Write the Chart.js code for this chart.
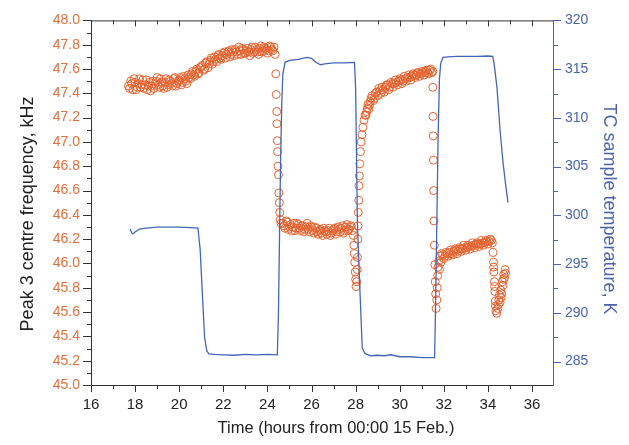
<!DOCTYPE html>
<html>
<head>
<meta charset="utf-8">
<script src="https://cdn.jsdelivr.net/npm/chart.js@4.4.1/dist/chart.umd.min.js"></script>
<style>
  body { margin: 0; background: #fff; }
  #chart { display: block; }
</style>
</head>
<body>
<canvas id="chart" width="629" height="445"></canvas>
<script>
// peak 3 centre frequency (kHz) vs time (h)
const freqTime = [
  // warm plateau, rising
  17.7, 17.8, 17.9, 18.0, 18.1, 18.2, 18.3, 18.4, 18.5, 18.6, 18.7, 18.8, 18.9, 19.0, 19.1, 19.2, 19.3, 19.4, 19.5, 19.6,
  19.7, 19.8, 19.9, 20.0, 20.1, 20.2, 20.3, 20.4, 20.5, 20.6, 20.7, 20.8, 20.9, 21.0, 21.1, 21.2, 21.3, 21.4, 21.5, 21.6,
  21.7, 21.8, 21.9, 22.0, 22.1, 22.2, 22.3, 22.4, 22.5, 22.6, 22.7, 22.8, 22.9, 23.0, 23.1, 23.2, 23.3, 23.4, 23.5, 23.6,
  23.7, 23.8, 23.9, 24.0, 24.1, 24.2, 24.3,
  17.75, 17.85, 17.95, 18.05, 18.15, 18.25, 18.35, 18.45, 18.55, 18.65, 18.75, 18.85, 18.95, 19.05, 19.15, 19.25, 19.35, 19.45, 19.55, 19.65,
  19.75, 19.85, 19.95, 20.05, 20.15, 20.25, 20.35, 20.45, 20.55, 20.65, 20.75, 20.85, 20.95, 21.05, 21.15, 21.25, 21.35, 21.45, 21.55, 21.65,
  21.75, 21.85, 21.95, 22.05, 22.15, 22.25, 22.35, 22.45, 22.55, 22.65, 22.75, 22.85, 22.95, 23.05, 23.15, 23.25, 23.35, 23.45, 23.55, 23.65,
  23.75, 23.85, 23.95, 24.05, 24.15, 24.25,
  // drop
  24.35, 24.38, 24.40, 24.42, 24.43, 24.45, 24.46, 24.48, 24.50, 24.52, 24.54, 24.56, 24.58, 24.62,
  // hot plateau
  24.7, 24.8, 24.9, 25.0, 25.1, 25.2, 25.3, 25.4, 25.5, 25.6, 25.7, 25.8, 25.9, 26.0, 26.1, 26.2, 26.3, 26.4, 26.5, 26.6,
  26.7, 26.8, 26.9, 27.0, 27.1, 27.2, 27.3, 27.4, 27.5, 27.6, 27.7, 27.8, 27.85,
  24.75, 24.85, 24.95, 25.05, 25.15, 25.25, 25.35, 25.45, 25.55, 25.65, 25.75, 25.85, 25.95, 26.05, 26.15, 26.25, 26.35, 26.45, 26.55, 26.65,
  26.75, 26.85, 26.95, 27.05, 27.15, 27.25, 27.35, 27.45, 27.55, 27.65, 27.75,
  // drop
  27.9, 27.92, 27.94, 27.96, 27.98, 28.0, 28.02,
  // recovery
  28.05, 28.07, 28.08, 28.10, 28.11, 28.12, 28.14, 28.15, 28.17, 28.19, 28.22, 28.25, 28.29, 28.33, 28.38, 28.43,
  28.5, 28.56, 28.63, 28.7, 28.8, 28.9, 29.0,
  28.47, 28.53, 28.6, 28.66, 28.75, 28.85, 28.95,
  29.1, 29.2, 29.3, 29.4, 29.5, 29.6, 29.7, 29.8, 29.9, 30.0, 30.1, 30.2, 30.3, 30.4, 30.5, 30.6, 30.7, 30.8, 30.9, 31.0,
  31.1, 31.2, 31.3, 31.4, 31.5,
  29.05, 29.15, 29.25, 29.35, 29.45, 29.55, 29.65, 29.75, 29.85, 29.95, 30.05, 30.15, 30.25, 30.35, 30.45, 30.55, 30.65, 30.75, 30.85, 30.95,
  31.05, 31.15, 31.25, 31.35, 31.45,
  // drop
  31.50, 31.51, 31.52, 31.53, 31.54, 31.55, 31.57, 31.59, 31.61, 31.63, 31.65,
  // hot plateau
  31.68, 31.70, 31.72, 31.74, 31.77, 31.80, 31.83, 31.87, 31.9,
  32.0, 32.1, 32.2, 32.3, 32.4, 32.5, 32.6, 32.7, 32.8, 32.9, 33.0, 33.1, 33.2, 33.3, 33.4, 33.5, 33.6, 33.7, 33.8, 33.9,
  34.0, 34.1, 34.2,
  31.95, 32.05, 32.15, 32.25, 32.35, 32.45, 32.55, 32.65, 32.75, 32.85, 32.95, 33.05, 33.15, 33.25, 33.35, 33.45, 33.55, 33.65, 33.75, 33.85,
  33.95, 34.05, 34.15,
  // cool-down dip
  34.23, 34.25, 34.27, 34.29, 34.31, 34.33, 34.36, 34.40, 34.26, 34.30, 34.34,
  34.45, 34.5, 34.55, 34.58, 34.62, 34.65, 34.68, 34.72, 34.75, 34.78,
  34.47, 34.52, 34.6, 34.7, 34.8
];
const freqValue = [
  47.46, 47.50, 47.43, 47.49, 47.45, 47.52, 47.47, 47.44, 47.51, 47.46, 47.42, 47.50, 47.48, 47.53, 47.45, 47.49, 47.44, 47.52, 47.47, 47.50,
  47.46, 47.53, 47.48, 47.51, 47.47, 47.54, 47.50, 47.55, 47.52, 47.58, 47.54, 47.60, 47.57, 47.62, 47.59, 47.65, 47.61, 47.67, 47.64, 47.70,
  47.66, 47.72, 47.68, 47.73, 47.69, 47.74, 47.70, 47.76, 47.71, 47.74, 47.78, 47.72, 47.76, 47.73, 47.77, 47.71, 47.78, 47.74, 47.76, 47.72,
  47.79, 47.75, 47.77, 47.73, 47.79, 47.76, 47.78,
  47.44, 47.48, 47.52, 47.43, 47.48, 47.45, 47.51, 47.47, 47.43, 47.49, 47.46, 47.44, 47.50, 47.47, 47.52, 47.46, 47.49, 47.45, 47.51, 47.48,
  47.52, 47.46, 47.50, 47.53, 47.49, 47.52, 47.48, 47.53, 47.56, 47.55, 47.58, 47.56, 47.61, 47.63, 47.60, 47.66, 47.64, 47.69, 47.66, 47.68,
  47.71, 47.69, 47.71, 47.74, 47.72, 47.75, 47.72, 47.74, 47.76, 47.72, 47.75, 47.77, 47.73, 47.75, 47.74, 47.76, 47.73, 47.78, 47.74, 47.77,
  47.74, 47.78, 47.76, 47.75, 47.78, 47.75,
  47.72, 47.56, 47.39, 47.25, 47.15, 47.01, 46.92, 46.80, 46.73, 46.58, 46.50, 46.42, 46.36, 46.33,
  46.33, 46.29, 46.34, 46.30, 46.27, 46.33, 46.29, 46.32, 46.27, 46.31, 46.28, 46.33, 46.26, 46.30, 46.25, 46.29, 46.24, 46.28, 46.23, 46.27,
  46.24, 46.29, 46.25, 46.28, 46.24, 46.30, 46.26, 46.31, 46.27, 46.32, 46.28, 46.31, 46.27,
  46.31, 46.35, 46.28, 46.32, 46.30, 46.27, 46.33, 46.29, 46.31, 46.26, 46.30, 46.28, 46.31, 46.27, 46.30, 46.26, 46.27, 46.25, 46.29, 46.26,
  46.27, 46.23, 46.27, 46.29, 46.26, 46.28, 46.29, 46.25, 46.30, 46.27, 46.30,
  46.23, 46.15, 46.08, 46.01, 45.93, 45.87, 45.81,
  45.85, 45.95, 46.05, 46.20, 46.31, 46.42, 46.52, 46.64, 46.72, 46.82, 46.92, 47.00, 47.06, 47.12, 47.18, 47.22,
  47.25, 47.31, 47.30, 47.36, 47.34, 47.40, 47.38,
  47.22, 47.28, 47.27, 47.33, 47.38, 47.36, 47.41,
  47.42, 47.45, 47.41, 47.47, 47.43, 47.49, 47.45, 47.51, 47.47, 47.52, 47.48, 47.54, 47.50, 47.55, 47.51, 47.56, 47.53, 47.57, 47.54, 47.58,
  47.55, 47.59, 47.56, 47.60, 47.58,
  47.44, 47.40, 47.43, 47.45, 47.47, 47.45, 47.48, 47.48, 47.49, 47.50, 47.51, 47.50, 47.52, 47.53, 47.53, 47.54, 47.55, 47.55, 47.57, 47.56,
  47.57, 47.58, 47.57, 47.59, 47.57,
  47.45, 47.21, 47.05, 46.85, 46.60, 46.35, 46.15, 45.99, 45.85, 45.75, 45.63,
  45.70, 45.80, 45.90, 45.97, 46.02, 45.95, 46.06, 46.01, 46.08,
  46.04, 46.09, 46.06, 46.11, 46.07, 46.12, 46.08, 46.13, 46.10, 46.15, 46.11, 46.15, 46.12, 46.17, 46.13, 46.17, 46.14, 46.19, 46.15, 46.19,
  46.16, 46.20, 46.17,
  46.07, 46.06, 46.08, 46.09, 46.08, 46.10, 46.11, 46.10, 46.12, 46.12, 46.13, 46.13, 46.14, 46.14, 46.15, 46.16, 46.16, 46.16, 46.17, 46.17,
  46.18, 46.18, 46.19,
  46.09, 46.01, 45.93, 45.85, 45.77, 45.69, 45.61, 45.59, 45.97, 45.81, 45.65,
  45.63, 45.70, 45.68, 45.78, 45.75, 45.85, 45.82, 45.91, 45.88, 45.95,
  45.66, 45.74, 45.72, 45.87, 45.92
];

// TC sample temperature (K) vs time (h)
const tempTime = [
  17.77, 17.85, 17.9, 18.0, 18.2, 18.5, 19.0, 19.5, 20.0, 20.5, 20.85,
  20.95, 21.05, 21.15, 21.25, 21.35, 21.6, 22.0, 22.5, 23.0, 23.5, 24.0, 24.45,
  24.5, 24.55, 24.6, 24.65, 24.7, 24.8, 25.0, 25.4, 25.8, 26.0, 26.2, 26.4, 26.6, 27.0, 27.5, 27.95,
  28.0, 28.08, 28.2, 28.3, 28.4, 28.5, 28.7, 29.0, 29.3, 29.6, 30.0, 30.5, 31.0, 31.58,
  31.62, 31.68, 31.74, 31.8, 31.86, 31.96, 32.2, 32.6, 33.0, 33.5, 34.0, 34.22,
  34.3, 34.41, 34.55, 34.69, 34.8, 34.91
];
const tempValue = [
  298.6, 298.2, 298.1, 298.3, 298.6, 298.7, 298.8, 298.8, 298.8, 298.75, 298.7,
  296.5, 292.0, 287.5, 286.1, 285.8, 285.75, 285.7, 285.65, 285.75, 285.7, 285.75, 285.7,
  290.0, 298.0, 306.0, 311.5, 314.5, 315.7, 315.9, 316.0, 316.2, 316.1, 315.7, 315.45, 315.55, 315.65, 315.65, 315.7,
  313.0, 299.3, 292.0, 286.4, 285.9, 285.75, 285.6, 285.65, 285.6, 285.7, 285.5, 285.5, 285.4, 285.4,
  290.0, 299.0, 308.0, 314.0, 315.6, 316.2, 316.25, 316.3, 316.3, 316.3, 316.35, 316.3,
  315.2, 313.1, 308.7, 305.3, 303.2, 301.3
];

// axis ticks
const timeTicks = [16, 18, 20, 22, 24, 26, 28, 30, 32, 34, 36];
const timeMinor = [17, 19, 21, 23, 25, 27, 29, 31, 33, 35];
const freqTicks = [45.0, 45.2, 45.4, 45.6, 45.8, 46.0, 46.2, 46.4, 46.6, 46.8, 47.0, 47.2, 47.4, 47.6, 47.8, 48.0];
const freqMinor = [45.1, 45.3, 45.5, 45.7, 45.9, 46.1, 46.3, 46.5, 46.7, 46.9, 47.1, 47.3, 47.5, 47.7, 47.9];
const tempTicks = [285, 290, 295, 300, 305, 310, 315, 320];
const tempMinor = [287.5, 292.5, 297.5, 302.5, 307.5, 312.5, 317.5];

const orange = '#e5622e';
const orangeText = '#e2703f';
const blue = '#4466b8';
const blueText = '#4a64aa';
const dark = '#333333';
const font = '"Liberation Sans", Arial, sans-serif';

const freqPoints = freqTime.map((t, i) => ({ x: t, y: freqValue[i] }));
const tempPoints = tempTime.map((t, i) => ({ x: t, y: tempValue[i] }));

// tick marks: outward on left/right/bottom, inward on top
const tickMarks = {
  id: 'tickMarks',
  afterDraw(chart) {
    const ctx = chart.ctx;
    const a = chart.chartArea;
    const sx = chart.scales.x, sy = chart.scales.y, sy2 = chart.scales.y2;
    const px = v => Math.round(v) + 0.5;
    ctx.save();
    ctx.lineWidth = 1;

    ctx.strokeStyle = dark;
    ctx.beginPath();
    ctx.moveTo(a.left, a.top + 0.5);
    ctx.lineTo(a.right, a.top + 0.5);
    timeTicks.forEach(v => {
      const x = px(sx.getPixelForValue(v));
      ctx.moveTo(x, a.bottom); ctx.lineTo(x, a.bottom + 7);
      ctx.moveTo(x, a.top); ctx.lineTo(x, a.top + 6);
    });
    timeMinor.forEach(v => {
      const x = px(sx.getPixelForValue(v));
      ctx.moveTo(x, a.bottom); ctx.lineTo(x, a.bottom + 4);
      ctx.moveTo(x, a.top); ctx.lineTo(x, a.top + 4);
    });
    freqTicks.forEach(v => {
      const y = px(sy.getPixelForValue(v));
      ctx.moveTo(a.left, y); ctx.lineTo(a.left - 8, y);
    });
    freqMinor.forEach(v => {
      const y = px(sy.getPixelForValue(v));
      ctx.moveTo(a.left, y); ctx.lineTo(a.left - 4, y);
    });
    ctx.stroke();

    ctx.strokeStyle = blue;
    ctx.beginPath();
    tempTicks.forEach(v => {
      const y = px(sy2.getPixelForValue(v));
      ctx.moveTo(a.right, y); ctx.lineTo(a.right + 8, y);
    });
    tempMinor.forEach(v => {
      const y = px(sy2.getPixelForValue(v));
      ctx.moveTo(a.right, y); ctx.lineTo(a.right + 5, y);
    });
    ctx.stroke();

    // axis titles
    ctx.textAlign = 'center';
    ctx.textBaseline = 'alphabetic';
    ctx.fillStyle = '#222';
    ctx.font = '16.5px ' + font;
    ctx.fillText('Time (hours from 00:00 15 Feb.)', 336, 433);

    ctx.save();
    ctx.translate(33, 214);
    ctx.rotate(-Math.PI / 2);
    ctx.font = '18px ' + font;
    ctx.fillText('Peak 3 centre frequency, kHz', 0, 0);
    ctx.restore();

    ctx.save();
    ctx.translate(604, 209);
    ctx.rotate(Math.PI / 2);
    ctx.font = '18px ' + font;
    ctx.fillStyle = blueText;
    ctx.fillText('TC sample temperature, K', 0, 0);
    ctx.restore();

    ctx.restore();
  }
};

new Chart('chart', {
  type: 'scatter',
  data: {
    datasets: [{
      label: 'TC sample temperature',
      data: tempPoints,
      yAxisID: 'y2',
      showLine: true,
      borderColor: blue,
      borderWidth: 1.3,
      pointRadius: 0,
      tension: 0
    }, {
      label: 'Peak 3 centre frequency',
      data: freqPoints,
      yAxisID: 'y',
      showLine: false,
      pointStyle: 'circle',
      pointRadius: 4,
      borderWidth: 1,
      borderColor: orange,
      backgroundColor: 'rgba(0,0,0,0)'
    }]
  },
  options: {
    responsive: false,
    animation: false,
    layout: { padding: { top: 14, left: 0, right: 0, bottom: 0 } },
    plugins: {
      legend: { display: false },
      tooltip: { enabled: false }
    },
    scales: {
      x: {
        type: 'linear',
        position: 'bottom',
        min: 16,
        max: 36.95,
        afterBuildTicks: s => { s.ticks = timeTicks.map(v => ({ value: v })); },
        afterFit: s => { s.height = 60; },
        grid: { display: false, drawTicks: false },
        border: { display: true, color: dark, width: 1 },
        ticks: {
          padding: 11,
          color: '#222',
          font: { family: font, size: 15 },
          maxRotation: 0
        }
      },
      y: {
        type: 'linear',
        position: 'left',
        min: 45,
        max: 48,
        afterBuildTicks: s => { s.ticks = freqTicks.map(v => ({ value: v })); },
        afterFit: s => { s.width = 91; },
        grid: { display: false, drawTicks: false },
        border: { display: true, color: dark, width: 1 },
        ticks: {
          padding: 11,
          color: orangeText,
          font: { family: font, size: 14 },
          callback: v => v.toFixed(1)
        }
      },
      y2: {
        type: 'linear',
        position: 'right',
        min: 282.6,
        max: 320,
        afterBuildTicks: s => { s.ticks = tempTicks.map(v => ({ value: v })); },
        afterFit: s => { s.width = 76; },
        grid: { display: false, drawTicks: false },
        border: { display: true, color: blue, width: 1 },
        ticks: {
          padding: 12,
          color: blueText,
          font: { family: font, size: 14 }
        }
      }
    }
  },
  plugins: [tickMarks]
});
</script>
</body>
</html>
